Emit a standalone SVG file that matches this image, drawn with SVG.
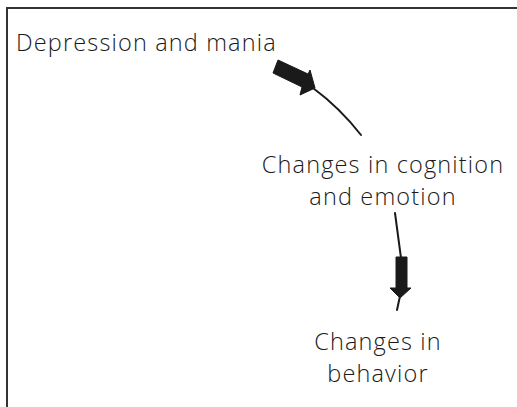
<svg xmlns="http://www.w3.org/2000/svg" width="517" height="407" viewBox="0 0 517 407">
  <style>
    .lbl { font-family: "Open Sans", "Noto Sans", sans-serif; font-size: 23.5px; font-weight: 300; letter-spacing: 1.15px; fill: #1a1a1a; }
    .thin { fill: none; stroke: #1a1a1a; stroke-width: 2; stroke-linecap: round; }
    .block { fill: #1a1a1a; stroke: #1a1a1a; stroke-width: 1; stroke-linejoin: miter; }
  </style>
  <rect width="517" height="407" fill="#ffffff"/>
  <!-- frame: only top and left edges fall inside the view -->
  <path d="M7,407 V8 H517" fill="none" stroke="#333333" stroke-width="2"/>

  <g id="node-depression">
    <text class="lbl" x="16" y="51">Depression and mania</text>
  </g>
  <g id="node-cognition">
    <text class="lbl" x="383" y="173" text-anchor="middle">Changes in cognition</text>
    <text class="lbl" x="383" y="205" text-anchor="middle">and emotion</text>
  </g>
  <g id="node-behavior">
    <text class="lbl" x="378" y="350" text-anchor="middle">Changes in</text>
    <text class="lbl" x="378" y="382" text-anchor="middle">behavior</text>
  </g>

  <g id="connectors">
    <!-- depression -> cognition -->
    <path class="thin" d="M313,88 Q340,108 361,135"/>
    <polygon class="block" points="278,60 273,73 302,87 300,95 315,88 310,70 308,74"/>
    <!-- cognition -> behavior -->
    <path class="thin" d="M395,213 Q398,235 401,258"/>
    <path class="thin" d="M400,296 L397,310"/>
    <polygon class="block" points="396,257 407,257 407,288 411,288 400,298 390,288 396,288"/>
  </g>
</svg>
